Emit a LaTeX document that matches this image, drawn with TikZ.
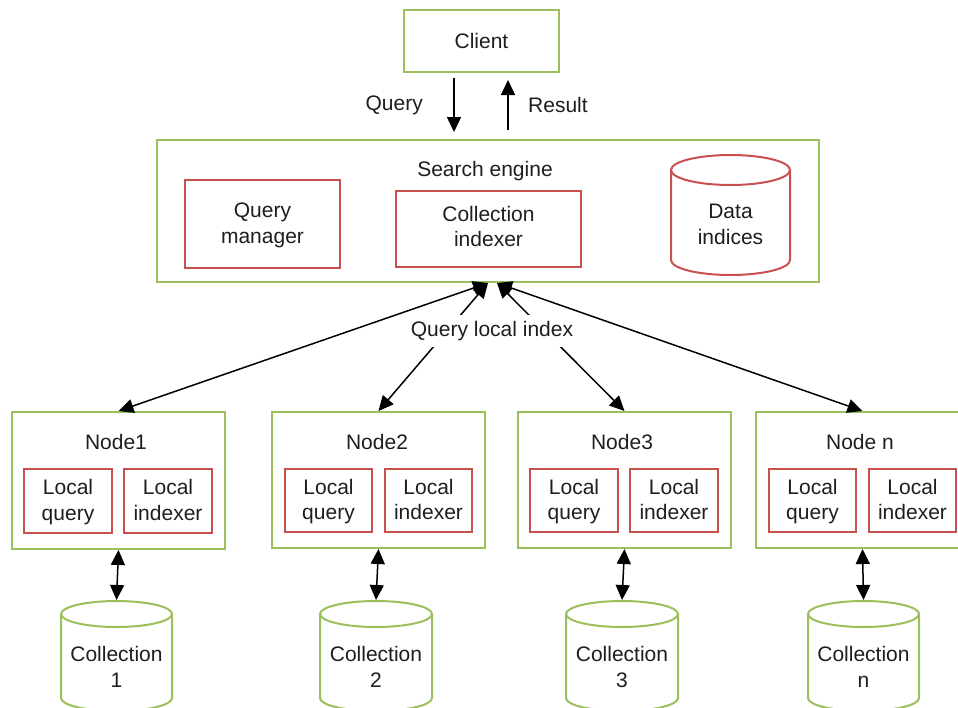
\documentclass[tikz,border=0pt]{standalone}
\usepackage{fontspec}
\setmainfont{Liberation Sans}
\usetikzlibrary{arrows.meta,calc}
\definecolor{bgreen}{RGB}{155,192,90}
\definecolor{bred}{RGB}{200,80,77}
\definecolor{txt}{RGB}{30,30,30}
\newcommand\mycyl[6]{% color, cx, top, bottom, rx, ry
  \draw[draw=#1, line width=2pt, fill=white] ({#2-#5},{#3+#6}) -- ({#2-#5},{#4-#6})
    arc[start angle=180,end angle=360,x radius=#5pt,y radius=#6pt]
    -- ({#2+#5},{#3+#6})
    arc[start angle=0,end angle=180,x radius=#5pt,y radius=#6pt] -- cycle;
  \draw[draw=#1, line width=2pt] ({#2-#5},{#3+#6})
    arc[start angle=180,end angle=360,x radius=#5pt,y radius=#6pt];
}
\newcommand\tl[2]{\rule{0pt}{17.85pt}#1\\#2\rule[-4.5pt]{0pt}{4.5pt}}
\newcommand\tlb[2]{\strut #1\\\strut #2}
\begin{document}
\begin{tikzpicture}[x=1pt,y=-1pt,
  font=\fontsize{21}{25.5}\selectfont, text=txt,
  gbox/.style={draw=bgreen, line width=2pt, inner sep=0pt},
  rbox/.style={draw=bred, line width=2pt, inner sep=0pt, align=center},
  lbl/.style={inner sep=0pt, align=center},
  arr/.style={line width=1.5pt, -{Triangle[length=15pt,width=14pt]}},
  darr/.style={line width=1.5pt, {Triangle[length=15pt,width=14pt]}-{Triangle[length=15pt,width=14pt]}},
]
\clip (0,0) rectangle (958,707);
\useasboundingbox (0,0) rectangle (958,707);

% Client
\node[gbox, minimum width=155pt, minimum height=62pt] (client) at (481.5,41) {Client};

% Search engine
\node[gbox, minimum width=662pt, minimum height=142pt] (se) at (488,211) {};
\node[lbl] (setitle) at (485,171) {Search engine};
\node[rbox, minimum width=155pt, minimum height=88pt] (qm) at (262.5,224) {\tl{Query}{manager}};
\node[rbox, minimum width=185pt, minimum height=76pt] (ci) at (488.5,229) {\tlb{Collection}{indexer}};
\mycyl{bred}{730.5}{155}{275}{59.5}{15}
\node[lbl] (di) at (730.5,225) {\tl{Data}{indices}};

% Query / Result
\draw[arr] ($(client.south)+(-27.5,5)$) -- ($(se.north)+(-34,-7)$);
\draw[arr] ($(se.north)+(20,-9)$) -- ($(client.south)+(26.5,7)$);
\node[lbl, anchor=east] (ql) at (423,105) {Query};
\node[lbl, anchor=west] (rl) at (528,105) {Result};

% Nodes
\node[gbox, minimum width=213pt, minimum height=137pt] (n1) at (118.5,480.5) {};
\node[lbl] (n1t) at (116,442) {Node1};
\node[rbox, minimum width=88pt, minimum height=64pt] (n1q) at (68,501) {\tl{Local}{query}};
\node[rbox, minimum width=88pt, minimum height=64pt] (n1i) at (168,501) {\tl{Local}{indexer}};

\node[gbox, minimum width=213pt, minimum height=136pt] (n2) at (378.5,480) {};
\node[lbl] (n2t) at (377,442) {Node2};
\node[rbox, minimum width=87pt, minimum height=63pt] (n2q) at (328.5,500.5) {\tl{Local}{query}};
\node[rbox, minimum width=87pt, minimum height=63pt] (n2i) at (428.5,500.5) {\tl{Local}{indexer}};

\node[gbox, minimum width=213pt, minimum height=136pt] (n3) at (624.5,480) {};
\node[lbl] (n3t) at (622,442) {Node3};
\node[rbox, minimum width=88pt, minimum height=63pt] (n3q) at (574,500.5) {\tl{Local}{query}};
\node[rbox, minimum width=88pt, minimum height=63pt] (n3i) at (674,500.5) {\tl{Local}{indexer}};

\node[gbox, minimum width=213pt, minimum height=136pt] (nn) at (862.5,480) {};
\node[lbl] (nnt) at (860,442) {Node n};
\node[rbox, minimum width=87pt, minimum height=63pt] (nnq) at (812.5,500.5) {\tl{Local}{query}};
\node[rbox, minimum width=87pt, minimum height=63pt] (nni) at (912.5,500.5) {\tl{Local}{indexer}};

% Collections
\mycyl{bgreen}{116.5}{601}{711}{55.5}{13}
\mycyl{bgreen}{376}{601}{711}{56}{13}
\mycyl{bgreen}{622}{601}{711}{56}{13}
\mycyl{bgreen}{863.5}{601}{711}{55.5}{13}
\coordinate (c1top) at (116.5,600);
\coordinate (c2top) at (376,600);
\coordinate (c3top) at (622,600);
\coordinate (cntop) at (863.5,600);
\node[lbl] (c1) at (116.5,668) {\tl{Collection}{1}};
\node[lbl] (c2) at (376,668) {\tl{Collection}{2}};
\node[lbl] (c3) at (622,668) {\tl{Collection}{3}};
\node[lbl] (cn) at (863.5,668) {\tl{Collection}{n}};

% Search engine <-> nodes
\draw[darr] (se.south) -- (n1.north);
\draw[darr] (se.south) -- (n2.north);
\draw[darr] ([xshift=9pt]se.south) -- (n3.north);
\draw[darr] ([xshift=9pt]se.south) -- (nn.north);
\node[lbl, fill=white, inner xsep=3pt, inner ysep=6pt] (qli) at (492,331) {Query local index};

% Nodes <-> collections
\draw[darr] (n1.south) -- (c1top);
\draw[darr] (n2.south) -- (c2top);
\draw[darr] (n3.south) -- (c3top);
\draw[darr] (nn.south) -- (cntop);
\end{tikzpicture}
\end{document}
